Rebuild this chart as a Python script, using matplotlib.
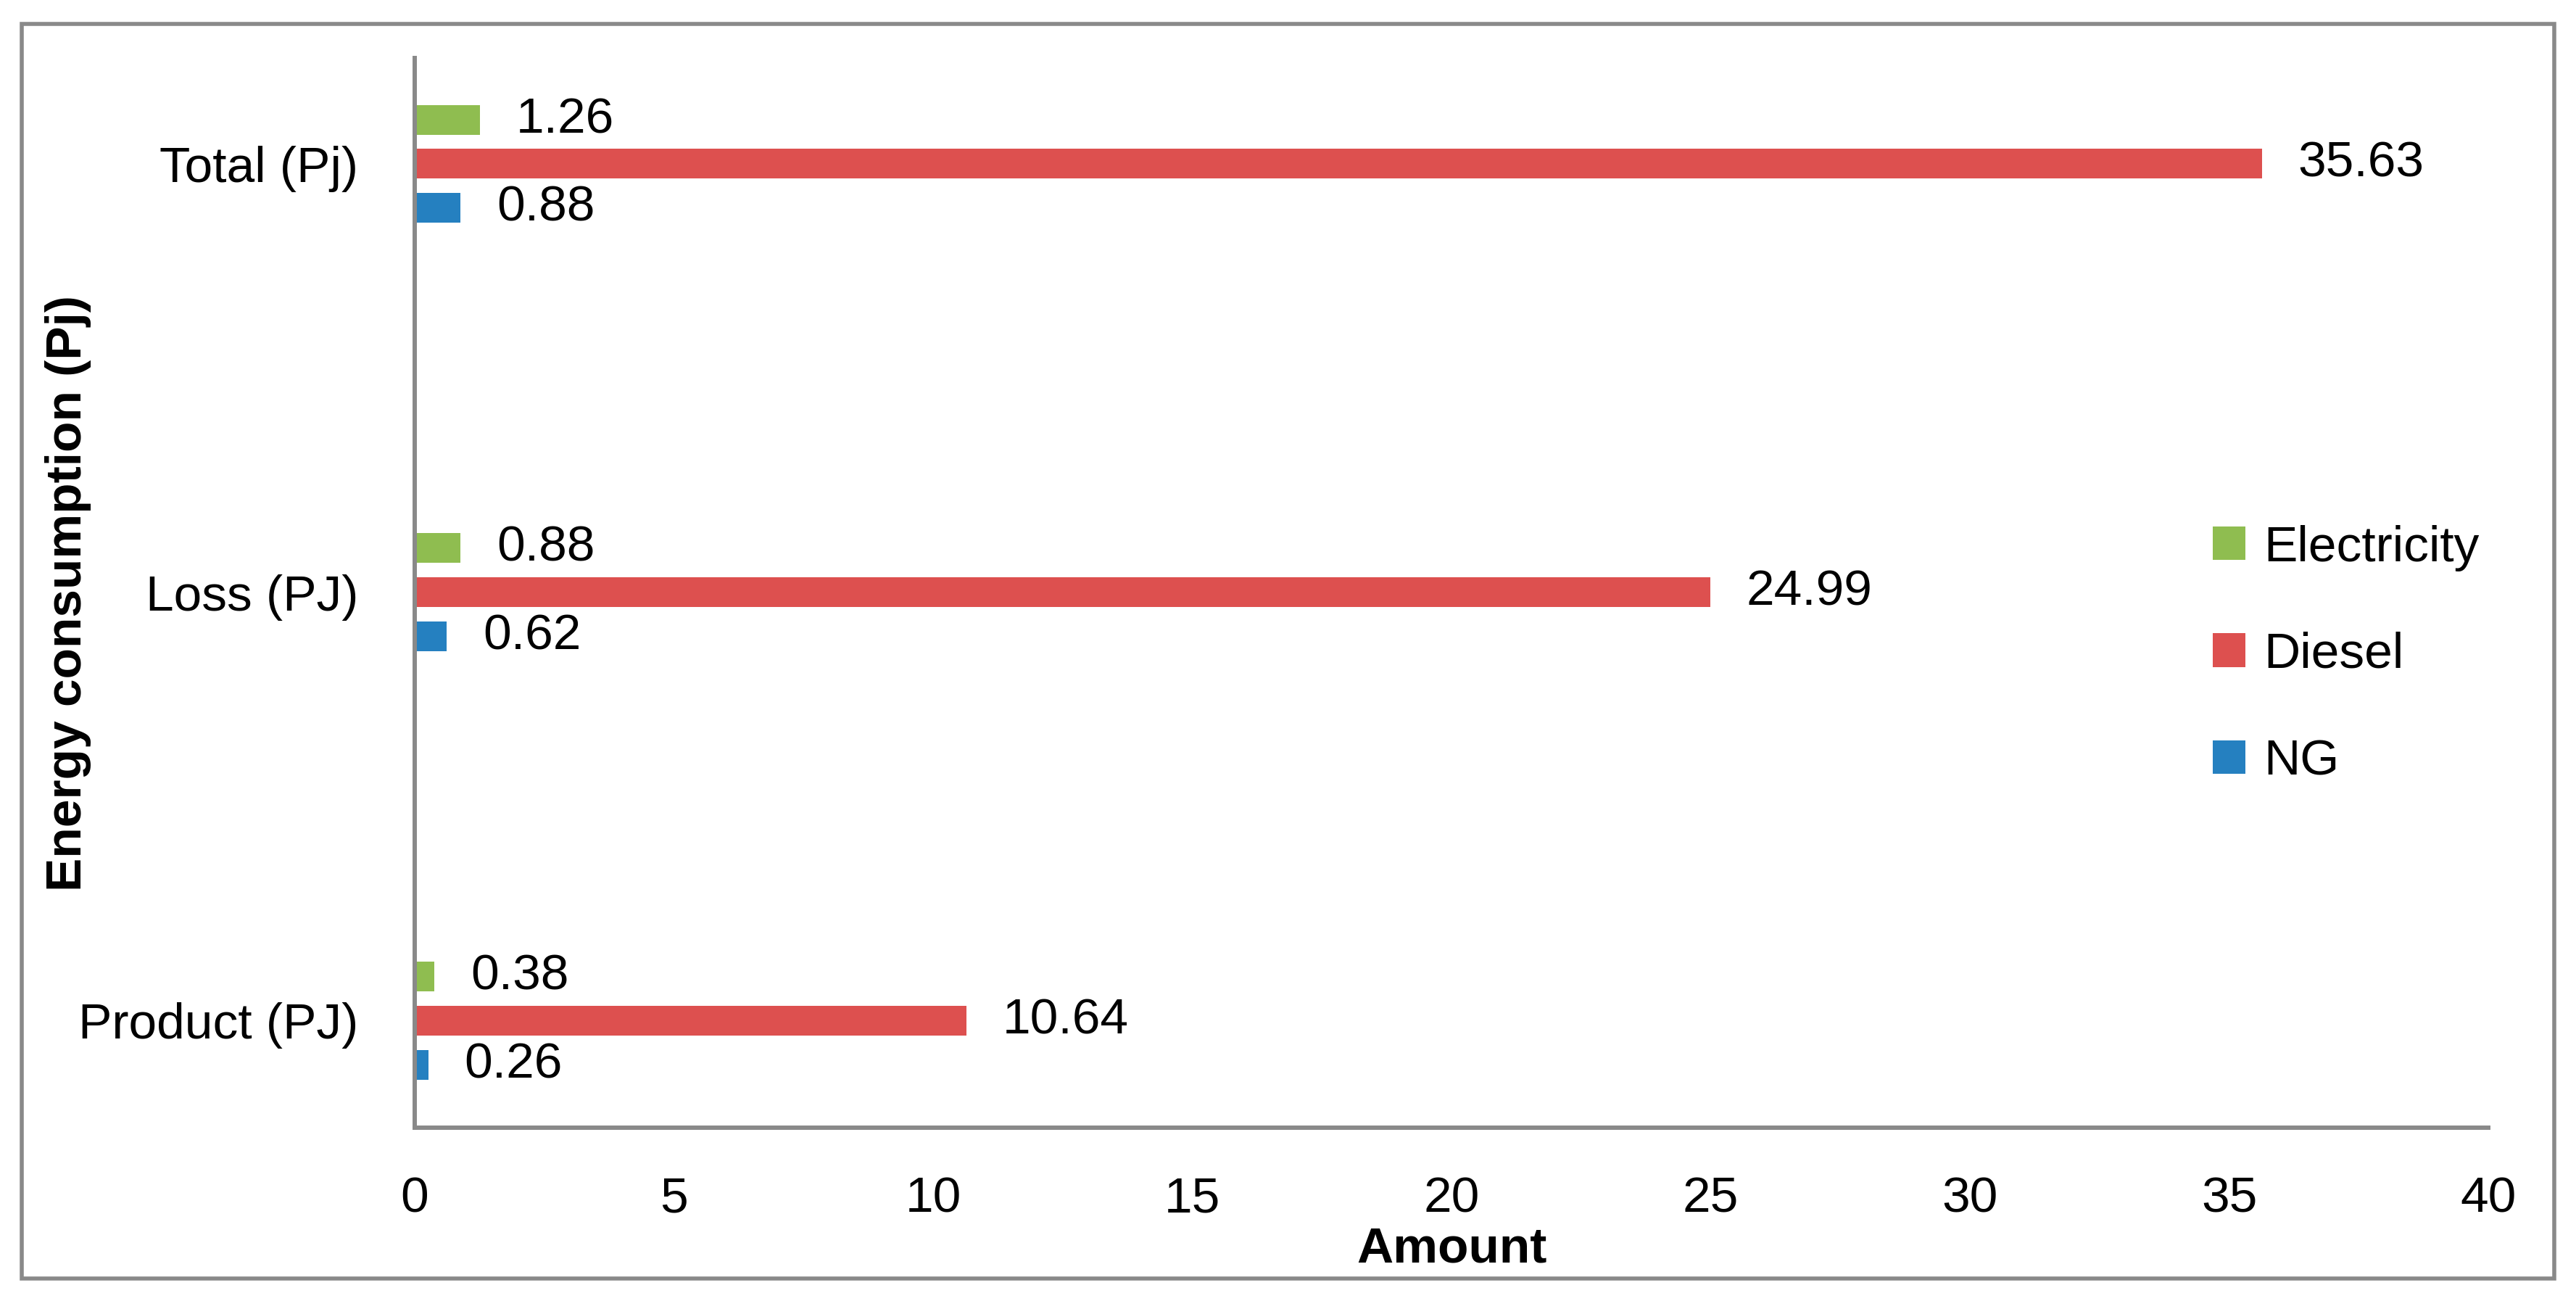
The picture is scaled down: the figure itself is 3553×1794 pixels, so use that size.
import numpy as np
import matplotlib.pyplot as plt
from matplotlib.patches import Patch, Rectangle

categories = ["Product (PJ)", "Loss (PJ)", "Total (Pj)"]
series_names = ["Electricity", "Diesel", "NG"]
electricity = [0.38, 0.88, 1.26]
diesel = [10.64, 24.99, 35.63]
ng = [0.26, 0.62, 0.88]

colors = {"Electricity": "#8FBD50", "Diesel": "#DD504F", "NG": "#2580C0"}
values = {"Electricity": electricity, "Diesel": diesel, "NG": ng}
offsets = {"Electricity": 0.103, "Diesel": 0.0, "NG": -0.103}

plt.rcParams["font.family"] = ["Liberation Sans", "DejaVu Sans"]
FS = 50

fig = plt.figure(figsize=(35.53, 17.94), dpi=100)
ax = fig.add_axes([0.161, 0.1332, 0.805, 0.8222])

y = np.arange(len(categories))
for name in series_names:
    bars = ax.barh(y + offsets[name], values[name], height=0.0694,
                   color=colors[name], label=name)
    for rect, v in zip(bars, values[name]):
        ax.annotate(f"{v:.2f}", (rect.get_width(), rect.get_y() + rect.get_height() / 2),
                    xytext=(36, 0), textcoords="offset points",
                    ha="left", va="center", fontsize=FS)

ax.set_xlim(0, 40)
ax.set_ylim(-0.25, 2.247)
ax.set_xticks(np.arange(0, 41, 5))
ax.set_yticks(y)
ax.set_yticklabels(categories)
ax.tick_params(axis="both", length=0, labelsize=FS)
ax.tick_params(axis="x", pad=48)
ax.tick_params(axis="y", pad=56)

for side in ["top", "right"]:
    ax.spines[side].set_visible(False)
for side in ["left", "bottom"]:
    ax.spines[side].set_color("#898989")
    ax.spines[side].set_linewidth(4.3)

ax.set_xlabel("Amount", fontsize=FS, fontweight="bold")
ax.xaxis.set_label_coords(0.5, -0.092)
ax.set_ylabel("Energy consumption (Pj)", fontsize=FS, fontweight="bold")
ax.yaxis.set_label_coords(-0.156, 0.5)

handles = [Patch(facecolor=colors[n], label=n) for n in series_names]
ax.legend(handles=handles, loc="center left", bbox_to_anchor=(0.859, 0.4967),
          bbox_transform=fig.transFigure, frameon=False, fontsize=FS,
          borderpad=0, borderaxespad=0, handlelength=0.65, handleheight=0.65,
          handletextpad=0.36, labelspacing=1.2)

fig.patches.append(Rectangle((0.0084, 0.0173), 0.9831, 0.9643, transform=fig.transFigure,
                             fill=False, edgecolor="#898989", linewidth=4))

fig.savefig("out.png", dpi=100, facecolor="white")
